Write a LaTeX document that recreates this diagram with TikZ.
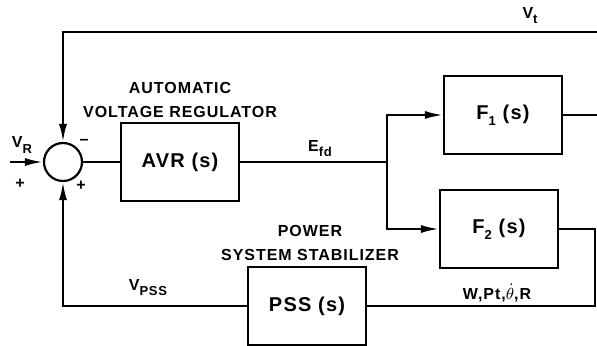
\documentclass[tikz,border=0pt]{standalone}
\usepackage{fontspec}
\setsansfont{Liberation Sans}
\newfontfamily\letterfont[LetterSpace=6]{Liberation Sans}
\usetikzlibrary{arrows.meta}

\newcommand{\lowsub}[1]{\raisebox{-0.6ex}{\fontsize{6.5}{7}\selectfont #1}}

\begin{document}
\begin{tikzpicture}[
  x=0.5pt, y=-0.5pt,
  every node/.style={font=\letterfont\bfseries\fontsize{8}{12}\selectfont},
  sigline/.style={draw=black, line width=1.1pt},
  sigarrow/.style={sigline, -{Latex[length=9pt,width=4pt]}},
  blockbox/.style={draw=black, line width=1.1pt, minimum width=59pt, minimum height=39pt,
    inner sep=0pt, font=\letterfont\bfseries\fontsize{10}{12}\selectfont},
  sumnode/.style={draw=black, line width=1.1pt, circle, minimum size=19pt, inner sep=0pt},
]
\useasboundingbox (0,0) rectangle (597,346);

% ============ blocks ============
\node[sumnode] (sum) at (63,162) {};
\node[blockbox] (avr) at (180,162) {AVR (s)};
\node[blockbox] (fone) at (503,115) {F\lowsub{1} (s)};
\node[blockbox] (ftwo) at (499,229) {F\lowsub{2} (s)};
\node[blockbox] (pss) at (307,306) {PSS (s)};

\coordinate (vrin) at (10,162);
\coordinate (jn) at (387,162);
\coordinate (vtr) at (597,32);
\coordinate (vtl) at (63,32);
\coordinate (fout) at (597,115);
\coordinate (fbk) at (595,306);

% ============ connectors ============
\draw[sigarrow] (vrin) -- (sum.west);
\draw[sigline] (sum.east) -- (avr.west);
\draw[sigline] (avr.east) -- (jn);
\draw[sigarrow] (jn) |- (fone.west);
\draw[sigarrow] (jn) |- (ftwo.west);
\draw[sigline] (fone.east) -- (fout);
\draw[sigarrow] (vtr) -- (vtl) -- (sum.north);
\draw[sigline] (ftwo.east) -| (fbk) -- (pss.east);
\draw[sigarrow] (pss.west) -| (sum.south);

% ============ labels ============
\node (vr) at (22,145) {V\lowsub{R}};
\node (minus) at (84,142) {\textendash};
\node (plusl) at (20,184) {+};
\node (plusb) at (81,186) {+};
\node[align=center] (avrlab) at (180,100) {AUTOMATIC\\VOLTAGE REGULATOR};
\node (efd) at (320,149) {E\lowsub{fd}};
\node (vt) at (530,16) {V\lowsub{t}};
\node[align=center] (psslab) at (310,243) {POWER\\SYSTEM STABILIZER};
\node[anchor=south] (vpss) at (148,303) {V\lowsub{PSS}};
\node[anchor=south, inner sep=1pt] (sigs) at (497,304) {W,Pt,$\dot{\theta}$,R};

\end{tikzpicture}
\end{document}
